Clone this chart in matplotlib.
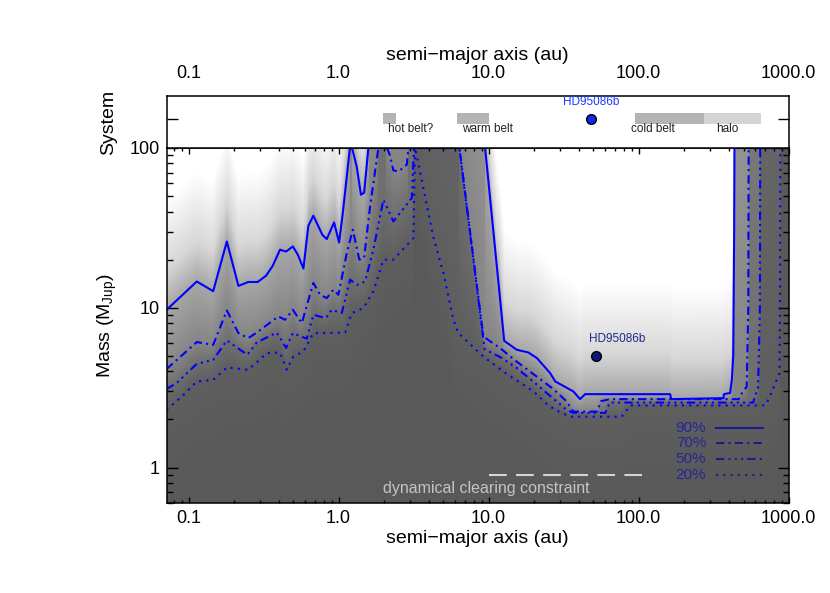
import numpy as np
import matplotlib
matplotlib.use('Agg')
import matplotlib.pyplot as plt
from matplotlib.ticker import FixedLocator, FixedFormatter, LogLocator, NullFormatter

plt.rcParams['font.family'] = ['Liberation Sans', 'DejaVu Sans']

# detection limits: semi-major axis (au) vs mass (MJup), 100 = saturated (top of grid)
a90 = [0.0713, 0.1135, 0.146, 0.180, 0.215, 0.250, 0.289, 0.329, 0.364, 0.407, 0.447, 0.496,
       0.535, 0.583, 0.629, 0.679, 0.780, 0.834, 0.933, 1.008, 1.067, 1.19, 1.23, 1.32, 1.41,
       1.48, 1.58, 9.48, 12.7, 15.4, 18.4, 21.0, 25.7, 27.8, 36.8, 40.7, 44.0, 162, 165, 368,
       370, 407, 418, 427, 433, 435, 1000]
m90 = [9.7, 14.6, 12.7, 26.0, 13.7, 14.5, 14.5, 15.9, 18.3, 23.1, 22.5, 24.2,
       21.5, 17.6, 32.6, 37.7, 28.6, 26.9, 34.2, 25.6, 39.2, 100, 100, 76.7, 51.0,
       52.5, 100, 100, 6.21, 5.46, 5.25, 4.84, 3.90, 3.46, 2.99, 2.68, 2.88, 2.88, 2.68, 2.72,
       2.88, 2.93, 3.54, 5.0, 30, 100, 100]

a70 = [0.0713, 0.1135, 0.146, 0.180, 0.215, 0.2505, 0.285, 0.397, 0.440, 0.4955, 0.569, 0.679,
       0.753, 0.834, 0.923, 0.997, 1.134, 1.244, 1.376, 1.479, 1.622, 1.842, 2.10, 2.20, 2.32,
       2.505, 2.85, 2.92, 6.39, 9.23, 11.9, 15.4, 21.0, 27.0, 33.0, 36.7, 53, 56, 64, 465, 472,
       525, 538, 541, 1000]
m70 = [4.13, 6.1, 5.86, 9.62, 6.94, 6.46, 7.0, 8.82, 8.41, 9.72, 8.02, 14.3,
       12.06, 11.5, 12.97, 12.06, 22.0, 30.8, 20.0, 20.5, 43.1, 100, 100, 90, 72.4,
       71.3, 78.6, 100, 100, 6.6, 5.6, 4.6, 3.7, 3.1, 2.6, 2.24, 2.24, 2.6, 2.68, 2.68, 2.8,
       3.21, 10, 100, 100]

a50 = [0.0713, 0.0834, 0.1135, 0.146, 0.180, 0.2466, 0.285, 0.387, 0.447, 0.4955, 0.614, 0.679,
       0.8215, 0.901, 1.050, 1.193, 1.322, 1.502, 1.706, 1.842, 1.989, 2.319, 3.076, 3.18, 6.39,
       9.4, 12.0, 15.4, 21.0, 27.0, 33.0, 36.7, 60, 64, 580, 590, 625, 643, 646, 1000]
m50 = [3.10, 3.38, 4.46, 4.72, 6.24, 5.08, 6.06, 7.0, 5.6, 6.94, 6.4, 9.04,
       8.62, 9.72, 9.27, 15.0, 13.9, 14.6, 23.1, 33.1, 47.4, 34.7, 48.6, 100, 100,
       5.5, 4.9, 4.2, 3.3, 2.7, 2.3, 2.2, 2.2, 2.55, 2.55, 2.72, 3.16, 10, 100, 100]

a20 = [0.0713, 0.0901, 0.1135, 0.146, 0.180, 0.2505, 0.332, 0.407, 0.4515, 0.500, 0.583, 0.679,
       0.792, 1.105, 1.225, 1.463, 1.706, 1.989, 2.319, 3.153, 3.236, 3.5, 4.27, 5.0, 5.83, 6.28,
       9.23, 13.5, 19.9, 24.4, 27.7, 34.9, 77, 88, 697, 741, 868, 875, 880, 1000]
m20 = [2.3, 2.78, 3.46, 3.54, 4.23, 4.09, 5.2, 5.25, 4.09, 4.95, 5.33, 6.94,
       6.94, 7.0, 9.27, 9.96, 12.65, 20.0, 20.0, 27.3, 100, 70, 28, 16.5, 8.4, 6.95,
       4.95, 3.8, 3.0, 2.5, 2.3, 2.08, 2.08, 2.45, 2.45, 2.72, 3.9, 10, 100, 100]

levels = ['90%', '70%', '50%', '20%']

# system architecture (top panel)
belt_names = ['hot belt?', 'warm belt', 'cold belt', 'halo']
belt_inner = [1.97, 6.2, 95, 271]
belt_outer = [2.4, 10.0, 271, 650]
belt_label_a = [2.14, 6.66, 88.9, 330]
planet_name = 'HD95086b'
planet_a_top = 48.0
planet_a = 52.0
planet_m = 5.0

# dynamical clearing constraint
clear_a = [10.0, 105.0]
clear_m = [0.9, 0.9]

# ---- probability map built from the limit curves ----
xlo, xhi, ylo, yhi = 0.0713, 1005, 0.6, 100
xe = np.logspace(np.log10(xlo), np.log10(xhi), 601)
ye = np.logspace(np.log10(ylo), np.log10(yhi), 301)
lx = np.log10(np.sqrt(xe[1:] * xe[:-1]))
ly = np.log10(np.sqrt(ye[1:] * ye[:-1]))

def curve_on_grid(a, m):
    lm = np.interp(lx, np.log10(a), np.log10(m))
    lm[lm >= 2 - 1e-6] = 4.0
    return lm

L = np.vstack([curve_on_grid(a20, m20), curve_on_grid(a50, m50),
               curve_on_grid(a70, m70), curve_on_grid(a90, m90)])
L = np.maximum.accumulate(L, axis=0)
gray_nodes = [0.35, 0.37, 0.43, 0.52, 0.65, 0.84, 1.0]
V = np.zeros((len(ly), len(lx)))
for j in range(len(lx)):
    nodes = np.array([L[0, j] - 0.5, L[0, j], L[1, j], L[2, j], L[3, j],
                      L[3, j] + 0.25, L[3, j] + 0.7]) + np.arange(7) * 1e-6
    V[:, j] = np.interp(ly, nodes, gray_nodes)

fig = plt.figure(figsize=(8.3, 5.93), dpi=100)
W, H = 830.0, 593.0
ax = fig.add_axes([166.5 / W, 1 - 503 / H, (789 - 166.5) / W, (503 - 148) / H])
axs = fig.add_axes([166.5 / W, 1 - 148 / H, (789 - 166.5) / W, (148 - 96) / H])

ax.pcolormesh(xe, ye, V, cmap='gray', vmin=0, vmax=1, shading='flat', zorder=0)

blue = '#0000ff'
styles = ['-', (0, (4, 2, 1, 2)), (0, (4, 2, 1, 2, 1, 2, 1, 2)), (0, (1, 2.5))]
for (a, m), ls in zip([(a90, m90), (a70, m70), (a50, m50), (a20, m20)], styles):
    ax.plot(a, m, color=blue, lw=1.5, linestyle=ls, zorder=2)

ax.plot(clear_a, clear_m, color='#d4d4d4', lw=1.5, dashes=(8.5, 4.5), zorder=2)
ax.text(0.513, 0.042, 'dynamical clearing constraint', transform=ax.transAxes,
        ha='center', va='center', color='#c4c4c4', fontsize=11.5)

ax.plot(planet_a, planet_m, 'o', ms=7, mfc='#0b1a7a', mec='k', mew=1, zorder=3)
ax.annotate(planet_name, (planet_a, planet_m), xytext=(15, 12), textcoords='offset points',
            ha='center', va='center', color='#1c2a8c', fontsize=8.5)

# legend
ys = [0.211, 0.169, 0.124, 0.079]
for lab, ls, yy in zip(levels, styles, ys):
    ax.text(0.867, yy, lab, transform=ax.transAxes, ha='right', va='center',
            color='#25259a', fontsize=11)
    ax.plot([0.883, 0.958], [yy, yy], transform=ax.transAxes, color='#1c1c8c',
            lw=1.5, linestyle=ls)

ax.set_xscale('log')
ax.set_yscale('log')
ax.set_xlim(xlo, xhi)
ax.set_ylim(ylo, yhi)

xt = [0.1, 1, 10, 100, 1000]
xtl = ['0.1', '1.0', '10.0', '100.0', '1000.0']
for a_ in (ax, axs):
    a_.set_xscale('log')
    a_.set_xlim(xlo, xhi)
    a_.xaxis.set_major_locator(FixedLocator(xt))
    a_.xaxis.set_major_formatter(FixedFormatter(xtl))
    a_.xaxis.set_minor_locator(LogLocator(subs=np.arange(2, 10)))
    a_.xaxis.set_minor_formatter(NullFormatter())
    for s in a_.spines.values():
        s.set_linewidth(1.1)

ax.yaxis.set_major_locator(FixedLocator([1, 10, 100]))
ax.yaxis.set_major_formatter(FixedFormatter(['1', '10', '100']))
ax.yaxis.set_minor_locator(LogLocator(subs=np.arange(2, 10)))
ax.yaxis.set_minor_formatter(NullFormatter())
ax.tick_params(which='both', direction='in', top=True, right=True, labelsize=13, width=1)
ax.tick_params(axis='x', which='major', length=4.5, pad=5)
ax.tick_params(axis='x', which='minor', length=2.2)
ax.tick_params(axis='y', which='major', length=8, pad=5)
ax.tick_params(axis='y', which='minor', length=4.3)
ax.set_xlabel('semi\u2212major axis (au)', fontsize=14, labelpad=2)
ax.set_ylabel('Mass (M$_{\\mathregular{Jup}}$)', fontsize=14)
ax.yaxis.set_label_coords(-0.077, 0.5)

# top panel
yc = 0.56
for lo, hi, col in zip(belt_inner, belt_outer, ['#b4b4b4', '#b4b4b4', '#b4b4b4', '#d4d4d4']):
    axs.barh(yc, hi - lo, left=lo, height=0.21, color=col, lw=0)
for name, xa in zip(belt_names, belt_label_a):
    axs.text(xa, 0.365, name, ha='left', va='center', fontsize=8.5, color='#202020')
axs.plot(planet_a_top, yc, 'o', ms=7, mfc='#0a28f0', mec='k', mew=1)
axs.annotate(planet_name, (planet_a_top, yc), xytext=(0, 12), textcoords='offset points',
             ha='center', va='center', color='#1a3cff', fontsize=8.5)
axs.set_ylim(0, 1)
axs.set_yticks([yc])
axs.set_yticklabels([])
axs.tick_params(axis='y', direction='in', length=8, left=True, right=True, width=1)
axs.tick_params(axis='x', which='both', length=0, top=True, bottom=False,
                labeltop=True, labelbottom=False, labelsize=13, pad=10)
axs.xaxis.set_label_position('top')
axs.set_xlabel('semi\u2212major axis (au)', fontsize=14, labelpad=4)
axs.set_ylabel('System', fontsize=14)
axs.yaxis.set_label_coords(-0.079, 0.5)

fig.savefig('out.png', dpi=100)
